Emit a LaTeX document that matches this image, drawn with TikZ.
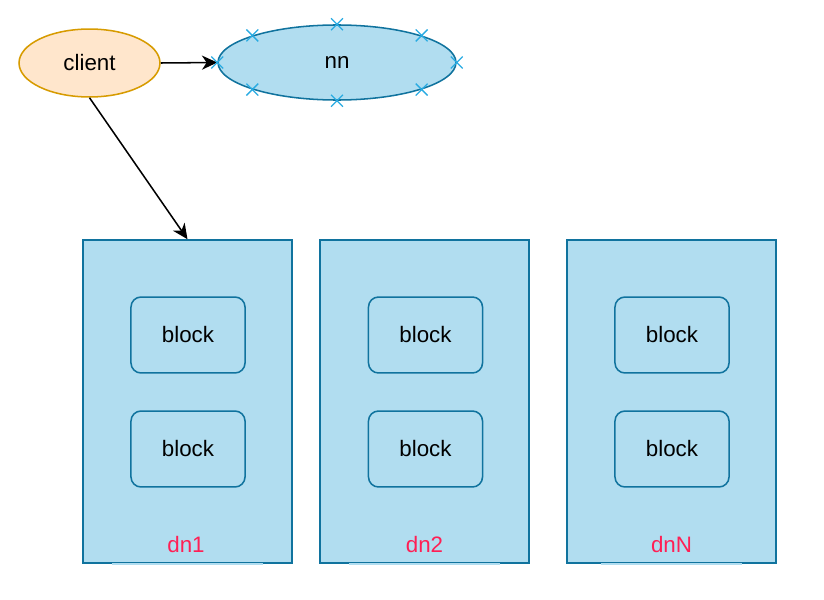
\documentclass[tikz,border=0pt]{standalone}
\usepackage{fontspec}
\setmainfont{Liberation Sans}
\usetikzlibrary{arrows.meta,shapes.geometric,shapes.misc}

\definecolor{nnfill}{HTML}{B1DDF0}
\definecolor{nnline}{HTML}{10739E}
\definecolor{clfill}{HTML}{FFE6CC}
\definecolor{clline}{HTML}{D79B00}
\definecolor{xcol}{HTML}{29ABE2}
\definecolor{lblred}{HTML}{FF1F55}

\tikzset{
	every node/.style={font=\fontsize{19}{23}\selectfont},
	host/.style={draw=nnline, fill=nnfill, line width=1.3pt, inner sep=0pt},
	block/.style={host, rectangle, rounded corners=8.5pt, minimum width=97pt, minimum height=64.6pt},
	datanode/.style={host, rectangle, minimum width=177.8pt, minimum height=274.7pt},
	xmark/.style={cross out, draw=xcol, line width=1.1pt, minimum size=9pt, inner sep=0pt},
	dnlabel/.style={text=lblred}
}

\begin{document}
\begin{tikzpicture}[>=Stealth, x=0.8505pt, y=-0.8505pt]
	\useasboundingbox (0, 0) rectangle (824, 600);

	\node[ellipse, draw=clline, fill=clfill, line width=1.3pt, minimum width=119.9pt, minimum height=57.8pt, inner sep=0pt] (client) at (89.5, 63) {client};
	\node[host, ellipse, minimum width=202.4pt, minimum height=63.8pt] (nn) at (337, 62.5) {nn};

	\node[datanode] (dn1) at (187.5, 401.5) {};
	\node[datanode] (dn2) at (424.5, 401.5) {};
	\node[datanode] (dnN) at (671.5, 401.5) {};

	\draw[nnfill, line width=1.5pt] ([xshift=-64pt]dn1.south) -- ([xshift=64pt]dn1.south);
	\draw[nnfill, line width=1.5pt] ([xshift=-64pt]dn2.south) -- ([xshift=64pt]dn2.south);
	\draw[nnfill, line width=1.5pt] ([xshift=-60pt]dnN.south) -- ([xshift=60pt]dnN.south);

	\node[block] (b11) at (188, 335) {block};
	\node[block] (b12) at (188, 449) {block};
	\node[block] (b21) at (425.5, 335) {block};
	\node[block] (b22) at (425.5, 449) {block};
	\node[block] (bN1) at (672, 335) {block};
	\node[block] (bN2) at (672, 449) {block};

	\node[dnlabel] (lbl1) at (186, 545) {dn1};
	\node[dnlabel] (lbl2) at (424.5, 545) {dn2};
	\node[dnlabel] (lblN) at (671.5, 545) {dnN};

	\draw[-{Stealth[length=13pt, width=12pt, inset=4pt]}, line width=1.3pt] (client.east) -- (nn.west);
	\draw[-{Stealth[length=13pt, width=12pt, inset=4pt]}, line width=1.3pt] (client.south) -- (dn1.north);

	\node[xmark] at (nn.west) {};
	\node[xmark] at (nn.east) {};
	\node[xmark] at (nn.north) {};
	\node[xmark] at (nn.south) {};
	\node[xmark] at (nn.north west) {};
	\node[xmark] at (nn.north east) {};
	\node[xmark] at (nn.south west) {};
	\node[xmark] at (nn.south east) {};
\end{tikzpicture}
\end{document}
